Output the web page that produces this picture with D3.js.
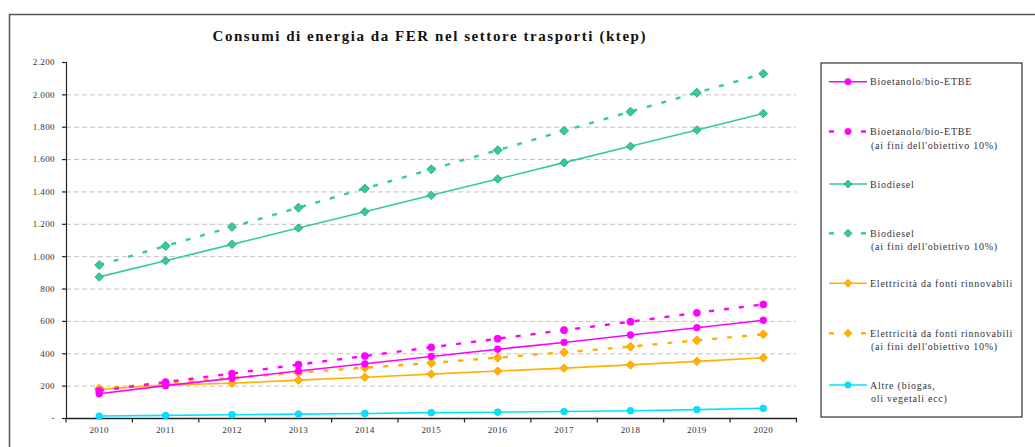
<!DOCTYPE html>
<html><head><meta charset="utf-8">
<script src="https://cdn.jsdelivr.net/npm/d3@7/dist/d3.min.js"></script>
<style>body{margin:0;background:#fff}svg{display:block}</style>
</head><body>
<svg id="c" width="1035" height="447"></svg>
<script>
const years = ["2010","2011","2012","2013","2014","2015","2016","2017","2018","2019","2020"];
const yTicks = [0,200,400,600,800,1000,1200,1400,1600,1800,2000,2200];
const bioetanolo = [150, 200, 245, 290, 335, 380, 425, 467, 513, 558, 604];
const bioetanolo10 = [168, 222, 275, 330, 383, 437, 490, 543, 595, 650, 702];
const biodiesel = [872, 972, 1073, 1174, 1275, 1376, 1477, 1578, 1679, 1780, 1882];
const biodiesel10 = [945, 1063, 1181, 1300, 1418, 1537, 1655, 1775, 1893, 2010, 2128];
const elettricita = [177, 205, 215, 234, 252, 271, 290, 308, 328, 350, 372];
const elettricita10 = [182, 215, 249, 280, 311, 340, 373, 406, 441, 480, 517];
const altre = [12, 16, 20, 24, 28, 33, 36, 40, 45, 52, 60];
const title = "Consumi di energia da FER nel settore trasporti (ktep)";

const series = [
  {name:["Bioetanolo/bio-ETBE"], values:bioetanolo, color:"#ff00ff", stroke:"#ff00ff", dash:null, marker:"circle"},
  {name:["Bioetanolo/bio-ETBE","(ai fini dell'obiettivo 10%)"], values:bioetanolo10, color:"#ff00ff", stroke:"#ff00ff", dash:"5,10", marker:"circle"},
  {name:["Biodiesel"], values:biodiesel, color:"#33cc99", stroke:"#2a9a70", dash:null, marker:"diamond"},
  {name:["Biodiesel","(ai fini dell'obiettivo 10%)"], values:biodiesel10, color:"#33cc99", stroke:"#2a9a70", dash:"5,10", marker:"diamond"},
  {name:["Elettricità da fonti rinnovabili"], values:elettricita, color:"#ffb000", stroke:"#ff9900", dash:null, marker:"diamond"},
  {name:["Elettricità da fonti rinnovabili","(ai fini dell'obiettivo 10%)"], values:elettricita10, color:"#ffb000", stroke:"#ff9900", dash:"5,10", marker:"diamond"},
  {name:["Altre (biogas,","oli vegetali ecc)"], values:altre, color:"#00e5ff", stroke:"#00ccee", dash:null, marker:"circle"}
];

const svg = d3.select("#c");
const serif = "'Liberation Serif','Times New Roman',serif";

// outer frame
svg.append("rect").attr("x",9.5).attr("y",14.5).attr("width",1040).attr("height",450)
  .attr("fill","none").attr("stroke","#555").attr("stroke-width",1.5);

const x = d3.scaleBand().domain(years).range([66, 796.5]).padding(0);
const y = d3.scaleLinear().domain([0,2200]).range([418, 62]);

// title
svg.append("text").attr("x",429).attr("y",41).attr("text-anchor","middle")
  .attr("font-family",serif).attr("font-weight","bold").attr("font-size",15)
  .attr("textLength",433).attr("lengthAdjust","spacing").attr("fill","#111").text(title);

// gridlines
svg.append("g").selectAll("line").data(yTicks.filter(d=>d>0 && d<2200)).join("line")
  .attr("x1",66).attr("x2",796).attr("y1",d=>y(d)+0.5).attr("y2",d=>y(d)+0.5)
  .attr("stroke","#c8c2b4").attr("stroke-width",1).attr("stroke-dasharray","5,3");

// y axis
const fmt = d => d===0 ? "-" : d3.format(",")(d).replace(/,/g,".");
const gy = svg.append("g").attr("transform","translate(66,0)")
  .call(d3.axisLeft(y).tickValues(yTicks).tickFormat(fmt).tickSizeOuter(0).tickSize(4).tickPadding(7));
gy.selectAll("path,line").attr("stroke","#222").attr("stroke-width",1.2);
gy.selectAll("text").attr("font-family",serif).attr("font-size",9).attr("fill","#333").attr("letter-spacing",0.4);

// x axis
const gx = svg.append("g").attr("transform","translate(0,418)")
  .call(d3.axisBottom(x).tickSize(0).tickPadding(9));
gx.select("path").attr("stroke","#222").attr("stroke-width",1.4);
gx.selectAll("text").attr("font-family",serif).attr("font-size",9).attr("fill","#333").attr("letter-spacing",0.4);
// ticks at band boundaries
const bounds = years.map(d=>x(d)).concat([x(years[years.length-1])+x.bandwidth()]);
svg.append("g").selectAll("line").data(bounds).join("line")
  .attr("x1",d=>d).attr("x2",d=>d).attr("y1",418).attr("y2",422.5)
  .attr("stroke","#222").attr("stroke-width",1.2);

const cx = d => x(d) + x.bandwidth()/2;
const line = d3.line().x((d,i)=>cx(years[i])).y(d=>y(d));

function marker(g, type, color, stroke, size){
  if(type==="circle"){
    return g.append("circle").attr("r",size).attr("fill",color).attr("stroke",stroke).attr("stroke-width",0.6);
  } else {
    const s = size*1.25;
    return g.append("path").attr("d",`M0,${-s}L${s},0L0,${s}L${-s},0Z`).attr("fill",color).attr("stroke",stroke).attr("stroke-width",0.8);
  }
}

const order = [6,5,4,1,0,3,2];
order.forEach(k=>{
  const s = series[k];
  const g = svg.append("g");
  g.append("path").datum(s.values).attr("d",line).attr("fill","none")
    .attr("stroke",s.color).attr("stroke-width",s.dash?2.4:1.6)
    .attr("stroke-dasharray",s.dash);
  s.values.forEach((v,i)=>{
    const mg = g.append("g").attr("transform",`translate(${cx(years[i])},${y(v)})`);
    marker(mg, s.marker, s.color, s.stroke, s.dash?3.6:3.4);
  });
});

// legend
svg.append("rect").attr("x",821).attr("y",63).attr("width",201).attr("height",354)
  .attr("fill","#fff").attr("stroke","#333").attr("stroke-width",1.2);
const ly = [81.7, 131.5, 184, 233.3, 283.3, 333.3, 385];
series.forEach((s,i)=>{
  const g = svg.append("g").attr("transform",`translate(0,${ly[i]})`);
  if(s.dash){
    g.append("line").attr("x1",829).attr("x2",834).attr("y1",0).attr("y2",0).attr("stroke",s.color).attr("stroke-width",2.4);
    g.append("line").attr("x1",861).attr("x2",866).attr("y1",0).attr("y2",0).attr("stroke",s.color).attr("stroke-width",2.4);
  } else {
    g.append("line").attr("x1",829).attr("x2",867).attr("y1",0).attr("y2",0).attr("stroke",s.color).attr("stroke-width",1.6);
  }
  const mg = g.append("g").attr("transform","translate(848,0)");
  marker(mg, s.marker, s.color, s.stroke, 3.2);
  const t = g.append("text").attr("font-family",serif).attr("font-size",10).attr("fill","#333")
    .attr("letter-spacing",0.75);
  s.name.forEach((n,j)=>{
    t.append("tspan").attr("x", j===0?870:871).attr("y", j===0?3.5:3.5+13.5).text(n);
  });
});
</script>
</body></html>
